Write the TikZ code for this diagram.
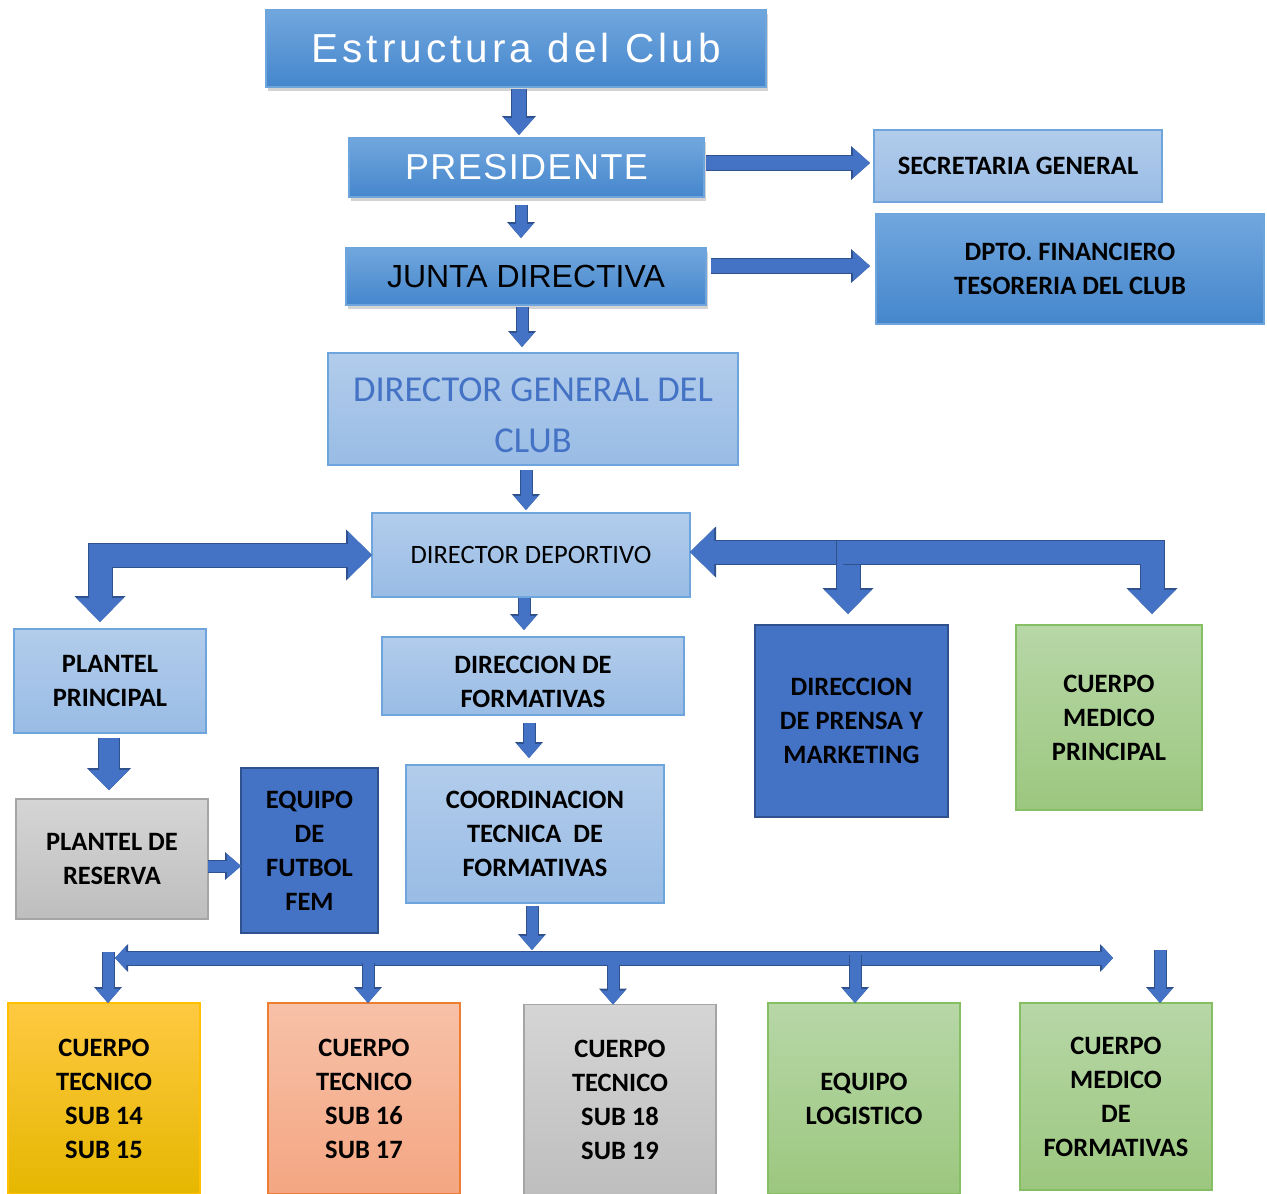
\documentclass[tikz,border=0pt]{standalone}
\usepackage{fontspec}
\setmainfont{Carlito}
\newfontfamily\arialtit[LetterSpace=10]{Liberation Sans}
\newfontfamily\arialpres[LetterSpace=4]{Liberation Sans}
\newfontfamily\arial{Liberation Sans}
\usetikzlibrary{arrows.meta, positioning, shadows}

\definecolor{azulflecha}{RGB}{68,114,196}
\definecolor{azulborde}{RGB}{47,82,143}
\definecolor{azulA}{RGB}{113,167,222}
\definecolor{azulB}{RGB}{69,134,204}
\definecolor{celA}{RGB}{178,204,235}
\definecolor{celB}{RGB}{153,188,229}
\definecolor{celBorde}{RGB}{110,165,220}
\definecolor{verdeA}{RGB}{183,215,167}
\definecolor{verdeB}{RGB}{156,199,127}
\definecolor{verdeBorde}{RGB}{134,190,99}
\definecolor{grisA}{RGB}{213,213,213}
\definecolor{grisB}{RGB}{190,190,190}
\definecolor{grisBorde}{RGB}{165,165,165}
\definecolor{amarA}{RGB}{255,201,66}
\definecolor{amarB}{RGB}{229,183,0}
\definecolor{amarBorde}{RGB}{255,192,0}
\definecolor{salmA}{RGB}{247,193,168}
\definecolor{salmB}{RGB}{244,166,130}
\definecolor{salmBorde}{RGB}{237,125,49}

\tikzset{
  caja/.style={rectangle, inner sep=0pt, outer sep=0pt, align=center,
    font=\fontsize{26.5}{34}\selectfont\bfseries, line width=1.5pt},
  celeste/.style={caja, top color=celA, bottom color=celB, draw=celBorde},
  azul/.style={caja, top color=azulA, bottom color=azulB, draw=celBorde},
  sombra/.style={drop shadow={shadow xshift=2pt, shadow yshift=-4pt, opacity=0.35}},
  oscuro/.style={caja, fill=azulflecha, draw=azulborde, line width=2pt},
  verde/.style={caja, top color=verdeA, bottom color=verdeB, draw=verdeBorde},
  gris/.style={caja, top color=grisA, bottom color=grisB, draw=grisBorde},
  amarillo/.style={caja, top color=amarA, bottom color=amarB, draw=amarBorde},
  salmon/.style={caja, top color=salmA, bottom color=salmB, draw=salmBorde},
  % puntas de flecha
  puntaG/.tip={Triangle[width=30pt,length=17pt,line width=0pt]},
  bordeG/.tip={Triangle[width=34pt,length=19pt,line width=0pt]},
  puntaM/.tip={Triangle[width=24pt,length=14pt,line width=0pt]},
  bordeM/.tip={Triangle[width=28pt,length=16pt,line width=0pt]},
  puntaF/.tip={Triangle[width=47pt,length=24pt,line width=0pt]},
  bordeF/.tip={Triangle[width=51pt,length=26pt,line width=0pt]},
  puntaR/.tip={Triangle[width=40pt,length=20pt,line width=0pt]},
  bordeR/.tip={Triangle[width=44pt,length=22pt,line width=0pt]},
  puntaB/.tip={Triangle[width=24pt,length=11pt,line width=0pt]},
  bordeB/.tip={Triangle[width=28pt,length=13pt,line width=0pt]},
  flecha/.style n args={4}{draw=azulflecha, line width=#1, arrows={#2},
    preaction={draw=azulborde, line width=#3, arrows={#4}}},
  flechaG/.style={flecha={14pt}{-puntaG}{16pt}{-bordeG}},
  flechaM/.style={flecha={11pt}{-puntaM}{13pt}{-bordeM}},
  flechaF/.style={flecha={23pt}{-puntaF}{25pt}{-bordeF}},
  flechaFF/.style={flecha={23pt}{puntaF-puntaF}{25pt}{bordeF-bordeF}},
  flechaR/.style={flecha={20pt}{-puntaR}{22pt}{-bordeR}},
  flechaB/.style={flecha={13pt}{puntaB-puntaB}{15pt}{bordeB-bordeB}},
}

\begin{document}
\begin{tikzpicture}[x=1pt, y=-1pt]
  \useasboundingbox (0,0) rectangle (1267,1194);

  % cabecera
  \node[azul, sombra, minimum width=500pt, minimum height=77pt,
    font=\arialtit\fontsize{40.5}{48}\selectfont, text=white] (titulo) at (516,48.5) {Estructura del Club};
  \node[azul, sombra, minimum width=355pt, minimum height=59pt,
    font=\arialpres\fontsize{36}{42}\selectfont, text=white] (presidente) at (526.5,167.5) {PRESIDENTE};
  \node[celeste, minimum width=288pt, minimum height=72pt] (secretaria) at (1018,166) {SECRETARIA GENERAL};
  \node[azul, sombra, minimum width=360pt, minimum height=57pt,
    font=\arial\fontsize{32}{38}\selectfont] (junta) at (526,276.5) {JUNTA DIRECTIVA};
  \node[azul, minimum width=388pt, minimum height=110pt] (financiero) at (1070,269) {DPTO. FINANCIERO\\TESORERIA DEL CLUB};
  \node[celeste, minimum width=410pt, minimum height=112pt, text=azulflecha,
    font=\fontsize{36.5}{51}\selectfont] (general) at (533,409) {};
  \node[text=azulflecha, font=\fontsize{36.5}{51}\selectfont, align=center] (generaltxt) at (533,415) {DIRECTOR GENERAL DEL\\CLUB};
  \node[celeste, minimum width=318pt, minimum height=84pt,
    font=\fontsize{26.5}{34}\selectfont] (deportivo) at (531,555) {DIRECTOR DEPORTIVO};

  % nivel deportivo
  \node[celeste, minimum width=192pt, minimum height=104pt] (plantel) at (110,681) {PLANTEL\\PRINCIPAL};
  \node[celeste, minimum width=302pt, minimum height=78pt] (dirform) at (533,676) {};
  \node[caja] (dirformtxt) at (533,682) {DIRECCION DE\\FORMATIVAS};
  \node[oscuro, minimum width=193pt, minimum height=192pt] (prensa) at (851.5,721) {DIRECCION\\DE PRENSA Y\\MARKETING};
  \node[verde, minimum width=186pt, minimum height=185pt] (medico) at (1109,717.5) {CUERPO\\MEDICO\\PRINCIPAL};
  \node[gris, minimum width=192pt, minimum height=120pt] (reserva) at (112,859) {PLANTEL DE\\RESERVA};
  \node[oscuro, minimum width=137pt, minimum height=165pt] (fem) at (309.5,850.5) {EQUIPO\\DE\\FUTBOL\\FEM};
  \node[celeste, minimum width=258pt, minimum height=138pt] (coord) at (535,834) {COORDINACION\\TECNICA\ \ DE\\FORMATIVAS};

  % formativas
  \node[amarillo, minimum width=192pt, minimum height=191pt] (sub14) at (104,1098.5) {CUERPO\\TECNICO\\SUB 14\\SUB 15};
  \node[salmon, minimum width=192pt, minimum height=191pt] (sub16) at (364,1098.5) {CUERPO\\TECNICO\\SUB 16\\SUB 17};
  \node[gris, minimum width=192pt, minimum height=191pt] (sub18) at (620,1100) {CUERPO\\TECNICO\\SUB 18\\SUB 19};
  \node[verde, minimum width=192pt, minimum height=191pt] (logistico) at (864,1098.5) {EQUIPO\\LOGISTICO};
  \node[verde, minimum width=192pt, minimum height=187pt] (medform) at (1116,1096.5) {CUERPO\\MEDICO\\DE\\FORMATIVAS};

  \coordinate (cruce) at (848,552);
  \coordinate (cruceD) at (860,552);
  \coordinate (barraI) at (115,958);
  \coordinate (barraD) at (1113,958);
  \coordinate (barraC) at (532,950);

  % flechas
  \draw[flechaG] ([xshift=3pt,yshift=-2pt]titulo.south) -- ([xshift=-7.5pt,yshift=3pt]presidente.north);
  \draw[flechaM] ([xshift=-5.5pt,yshift=-8pt]presidente.south) -- ([xshift=-5pt,yshift=10pt]junta.north);
  \draw[flechaG] ([xshift=2pt,yshift=4.5pt]presidente.east) -- ([xshift=-4pt,yshift=3pt]secretaria.west);
  \draw[flechaG] ([xshift=5pt,yshift=10.5pt]junta.east) -- ([xshift=-6pt,yshift=3pt]financiero.west);
  \draw[flechaM] ([xshift=-4pt,yshift=-2pt]junta.south) -- ([xshift=-11pt,yshift=6pt]general.north);
  \draw[flechaM] ([xshift=-7pt,yshift=-5pt]general.south) -- ([xshift=-5pt,yshift=3pt]deportivo.north);
  \draw[flechaM] ([xshift=-7pt,yshift=-1pt]deportivo.south) -- ([xshift=-9pt,yshift=7pt]dirform.north);
  \draw[flechaM] ([xshift=-4pt,yshift=-8pt]dirform.south) -- ([xshift=-6pt,yshift=7pt]coord.north);
  \draw[flechaM] ([xshift=-3pt,yshift=-3pt]coord.south) -- (barraC);

  \draw[flechaFF] ([xshift=-10pt,yshift=7pt]plantel.north) |- (deportivo.west);
  \draw[flechaF] (cruceD) -- ([yshift=3pt]deportivo.east);
  \draw[flechaF] ([yshift=11pt]cruce) -- ([xshift=-3.5pt,yshift=11pt]prensa.north);
  \draw[flechaF] ([xshift=-5pt]cruce) -| ([xshift=43pt,yshift=11pt]medico.north);

  \draw[flechaR] ([xshift=-1pt,yshift=-5pt]plantel.south) -- ([xshift=-3pt,yshift=9pt]reserva.north);
  \draw[flechaM] ([yshift=-7pt]reserva.east) -- ([yshift=-15.5pt]fem.west);

  \draw[flechaB] (barraI) -- (barraD);
  \foreach \caja/\dx/\largo in {sub14/4/51, sub16/4/40, sub18/-7/40, logistico/-9/48, medform/44/53}
    \draw[flechaM] ([xshift=\dx pt,yshift=\largo pt]\caja.north) -- ([xshift=\dx pt]\caja.north);
\end{tikzpicture}
\end{document}
